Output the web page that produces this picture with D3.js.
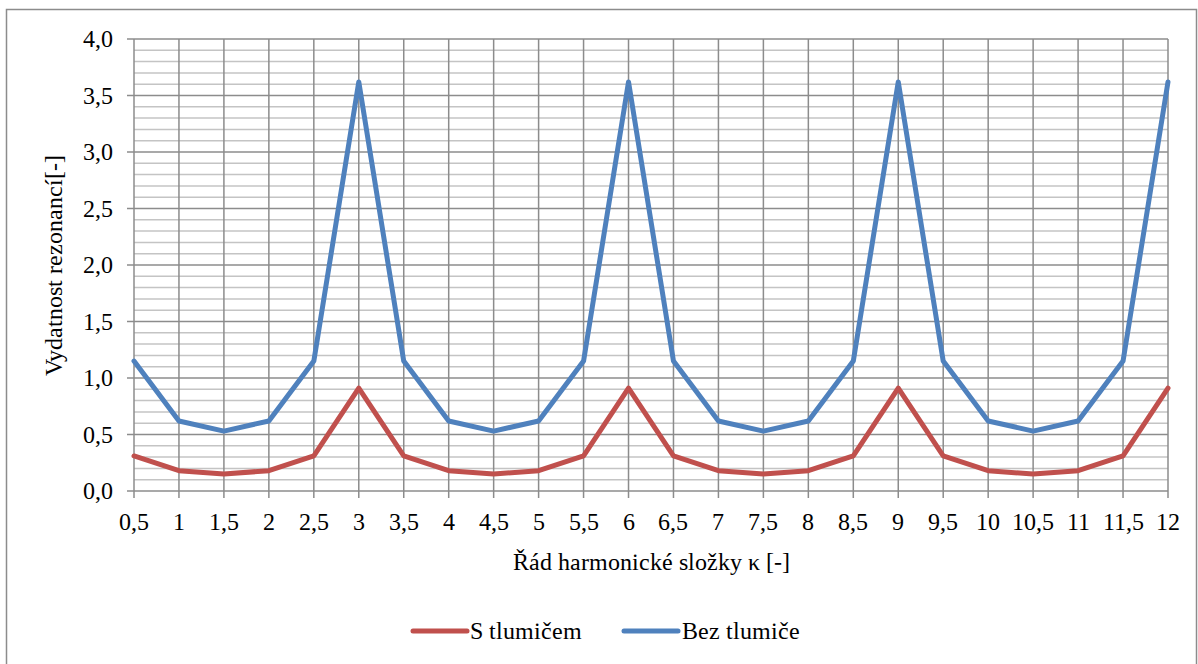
<!DOCTYPE html>
<html><head><meta charset="utf-8"><script src="https://cdn.jsdelivr.net/npm/d3@7"></script>
<style>@font-face{font-family:"XSerif";src:local("Liberation Serif"),local("LiberationSerif-Regular"),local("Tinos");}</style>
</head><body style="margin:0">
<svg id="c" width="1198" height="664"></svg>
<script>
const categories = ["0,5","1","1,5","2","2,5","3","3,5","4","4,5","5","5,5","6","6,5","7","7,5","8","8,5","9","9,5","10","10,5","11","11,5","12"];
const sTlumicem = [0.31,0.18,0.15,0.18,0.31,0.91,0.31,0.18,0.15,0.18,0.31,0.91,0.31,0.18,0.15,0.18,0.31,0.91,0.31,0.18,0.15,0.18,0.31,0.91];
const bezTlumice = [1.15,0.62,0.53,0.62,1.15,3.62,1.15,0.62,0.53,0.62,1.15,3.62,1.15,0.62,0.53,0.62,1.15,3.62,1.15,0.62,0.53,0.62,1.15,3.62];
const yTicks = [0,0.5,1,1.5,2,2.5,3,3.5,4];
const seriesNames = ["S tlumičem","Bez tlumiče"];
const seriesColors = ["#C0504D","#4F81BD"];

const svg = d3.select("#c");
const L=134, R=1168, T=39, B=491;
svg.append("rect").attr("x",6.5).attr("y",9.5).attr("width",1190).attr("height",700)
  .attr("fill","none").attr("stroke","#8c8c8c").attr("stroke-width",1.5);

const x = d3.scalePoint().domain(categories).range([L,R]);
const y = d3.scaleLinear().domain([0,4]).range([B,T]);

const minor = d3.range(0,41).map(i=>i/10).filter(v=>Math.round(v*10)%5!==0);
svg.append("g").selectAll("line").data(minor).join("line")
  .attr("x1",L).attr("x2",R).attr("y1",d=>y(d)).attr("y2",d=>y(d))
  .attr("stroke","#c4c4c4").attr("stroke-width",1.5);
svg.append("g").selectAll("line").data(yTicks).join("line")
  .attr("x1",L-7).attr("x2",R).attr("y1",d=>y(d)).attr("y2",d=>y(d))
  .attr("stroke","#8c8c8c").attr("stroke-width",1.5);
svg.append("g").selectAll("line").data(categories).join("line")
  .attr("x1",d=>x(d)).attr("x2",d=>x(d)).attr("y1",T).attr("y2",B+7)
  .attr("stroke","#8c8c8c").attr("stroke-width",1.5);

const txt = sel => sel.attr("font-family","XSerif, Liberation Serif, serif").attr("font-size",24).attr("fill","#000");
svg.append("g").selectAll("text").data(yTicks).join("text")
  .call(txt).attr("x",L-21).attr("y",d=>y(d)+8).attr("text-anchor","end")
  .text(d=>d3.format(".1f")(d).replace(".",","));
svg.append("g").selectAll("text").data(categories).join("text")
  .call(txt).attr("x",d=>x(d)).attr("y",530).attr("text-anchor","middle")
  .text(d=>d);

svg.append("text").call(txt).attr("transform",`translate(62,${(T+B)/2}) rotate(-90)`)
  .attr("text-anchor","middle").text("Vydatnost rezonancí[-]");
svg.append("text").call(txt).attr("x",(L+R)/2).attr("y",570).attr("text-anchor","middle")
  .text("Řád harmonické složky κ [-]");

const line = d3.line().x((d,i)=>x(categories[i])).y(d=>y(d));
[sTlumicem,bezTlumice].forEach((s,k)=>{
  svg.append("path").datum(s).attr("d",line).attr("fill","none")
    .attr("stroke",seriesColors[k]).attr("stroke-width",5)
    .attr("stroke-linejoin","round").attr("stroke-linecap","round");
});

const lg=[{x:413,tx:470},{x:624,tx:682}];
seriesNames.forEach((n,k)=>{
  svg.append("line").attr("x1",lg[k].x).attr("x2",lg[k].x+54).attr("y1",631).attr("y2",631)
    .attr("stroke",seriesColors[k]).attr("stroke-width",5).attr("stroke-linecap","round");
  svg.append("text").call(txt).attr("x",lg[k].tx).attr("y",639).text(n);
});
</script>
</body></html>
